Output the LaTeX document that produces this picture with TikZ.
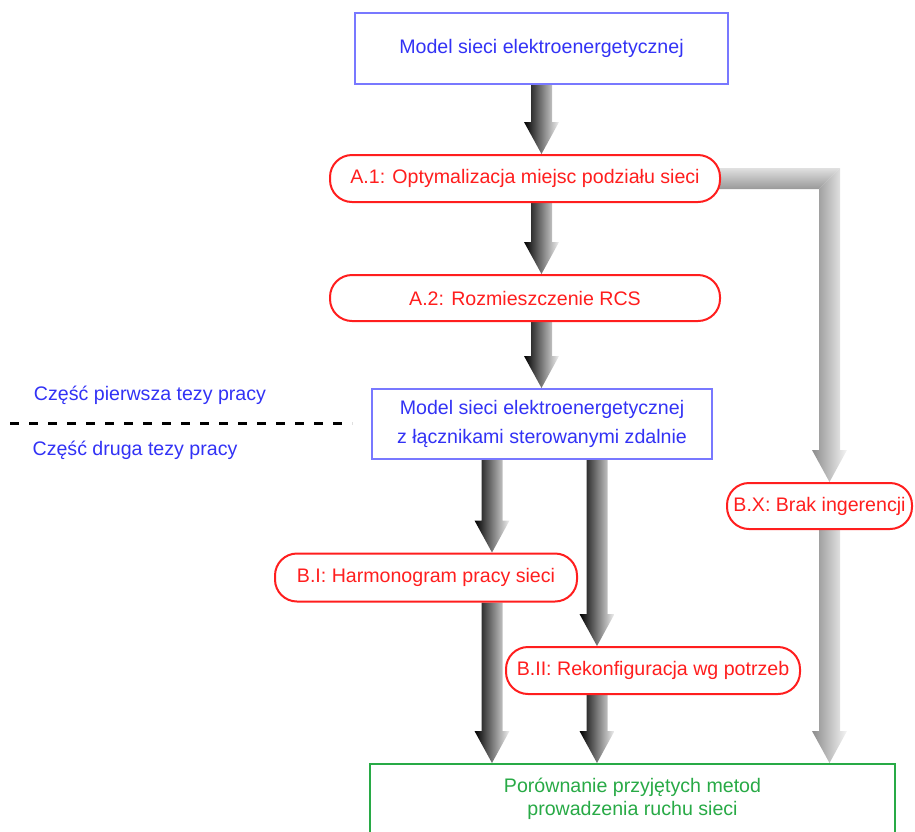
\documentclass[tikz,border=0pt]{standalone}
\usepackage{fontspec}
\setmainfont{Liberation Sans}
\usepackage{tikz}
\usetikzlibrary{positioning,calc,backgrounds}
\definecolor{txtblue}{RGB}{50,50,245}
\definecolor{lineblue}{RGB}{120,120,255}
\definecolor{myred}{RGB}{255,30,30}
\definecolor{mygreen}{RGB}{40,170,70}
\tikzset{
  bluebox/.style={draw=lineblue,line width=1pt,fill=white,text=txtblue,align=center,inner sep=0pt},
  redbox/.style={draw=myred,line width=1pt,fill=white,text=myred,rounded corners=11pt,inner sep=0pt},
  greenbox/.style={draw=mygreen,line width=1pt,fill=white,text=mygreen,align=center,inner sep=0pt},
  darkarrow/.style={left color=black,right color=black!6},
  greyarrow/.style={left color=black!45,right color=black!4},
  sepline/.style={line width=1.5pt,dash pattern=on 4.5pt off 5pt}
}
% top point, bottom anchor, shading
\newcommand{\shadedarrow}[3]{\path let \p1=(#1), \p2=(#2) in [#3] (\x1-5.25pt,\y1) -- (\x1+5.25pt,\y1) -- (\x1+5.25pt,\y2+16pt) -- (\x1+8.75pt,\y2+16pt) -- (\x1,\y2) -- (\x1-8.75pt,\y2+16pt) -- (\x1-5.25pt,\y2+16pt) -- cycle;}

\begin{document}
\begin{tikzpicture}[x=0.5pt,y=-0.5pt,font=\fontsize{9.8}{13}\selectfont]
\useasboundingbox (0,0) rectangle (915,831);

\node[bluebox,minimum width=186.5pt,minimum height=35.5pt] (m1) at (541.5,48.5) {Model sieci elektroenergetycznej};
\node[redbox,minimum width=195pt,minimum height=23.5pt] (a1) at (525,178.5) {A.1: Optymalizacja miejsc podziału sieci};
\node[redbox,minimum width=195pt,minimum height=23pt] (a2) at (525,298) {A.2: Rozmieszczenie RCS};
\node[bluebox,minimum width=170pt,minimum height=35pt,font=\fontsize{9.8}{14.5}\selectfont] (m2) at (542,424) {Model sieci elektroenergetycznej\\z łącznikami sterowanymi zdalnie};
\node[redbox,minimum width=92.5pt,minimum height=23pt] (bx) at (819.5,506) {B.X: Brak ingerencji};
\node[redbox,minimum width=151pt,minimum height=24pt] (b1) at (426,577.5) {B.I: Harmonogram pracy sieci};
\node[redbox,minimum width=147pt,minimum height=23.5pt] (b2) at (653,670.5) {B.II: Rekonfiguracja wg potrzeb};
\node[greenbox,minimum width=262.5pt,minimum height=35pt,font=\fontsize{9.8}{11.5}\selectfont] (por) at (632.5,799) {Porównanie przyjętych metod\\prowadzenia ruchu sieci};

\node[text=txtblue] (cz1) at (150,395) {Część pierwsza tezy pracy};
\node[text=txtblue] (cz2) at (135,450) {Część druga tezy pracy};
\draw[sepline] (10,423) -- (352,423);

\coordinate (p1) at ($(m2.south)+(-50,0)$);
\coordinate (p2) at ($(m2.south)+(55,0)$);
\coordinate (q) at ($(bx.north)+(10,0)$);

\begin{pgfonlayer}{background}
\shadedarrow{m1.south}{a1.north}{darkarrow}
\shadedarrow{a1.south -| m1.south}{a2.north}{darkarrow}
\shadedarrow{a2.south -| m1.south}{m2.north}{darkarrow}
\shadedarrow{p1}{b1.north}{darkarrow}
\shadedarrow{p2}{b2.north}{darkarrow}
\shadedarrow{b1.south -| p1}{por.north}{darkarrow}
\shadedarrow{b2.south -| p2}{por.north}{darkarrow}
\path let \p1=(a1.center), \p2=(q) in [top color=black!12,bottom color=black!40] (\x1,\y1+5.25pt) -- (\x2+5.25pt,\y1+5.25pt) -- (\x2-5.25pt,\y1-5.25pt) -- (\x1,\y1-5.25pt) -- cycle;
\path let \p1=(a1.center), \p2=(q) in [greyarrow] (\x2+5.25pt,\y1+5.25pt) -- (\x2+5.25pt,\y2+16pt) -- (\x2+8.75pt,\y2+16pt) -- (\x2,\y2) -- (\x2-8.75pt,\y2+16pt) -- (\x2-5.25pt,\y2+16pt) -- (\x2-5.25pt,\y1-5.25pt) -- cycle;
\shadedarrow{bx.south -| q}{por.north}{greyarrow}
\end{pgfonlayer}
\end{tikzpicture}
\end{document}
